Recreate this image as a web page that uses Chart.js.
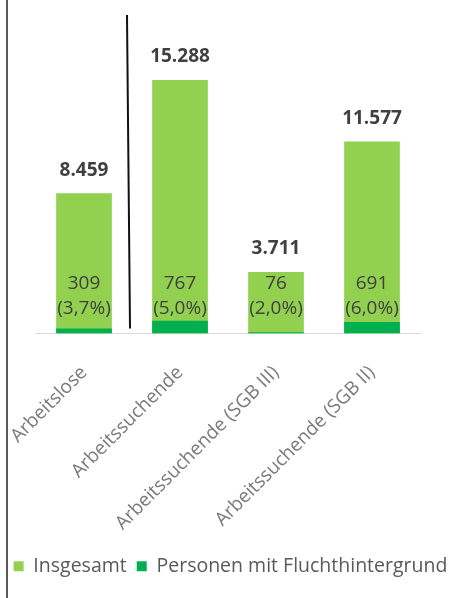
<!DOCTYPE html>
<html>
<head>
<meta charset="utf-8">
<script src="https://cdn.jsdelivr.net/npm/chart.js"></script>
<style>
  html, body { margin: 0; padding: 0; background: #fff; }
  #wrap { position: relative; width: 461px; height: 598px; }
  #edge { position: absolute; left: 6px; top: 0; width: 2px; height: 598px; background: #595959; }
</style>
</head>
<body>
<div id="wrap">
  <canvas id="chart" width="461" height="598"></canvas>
  <div id="edge"></div>
</div>
<script>
// Data
const categories = ['Arbeitslose', 'Arbeitssuchende', 'Arbeitssuchende (SGB III)', 'Arbeitssuchende (SGB II)'];
const insgesamt = [8459, 15288, 3711, 11577];
const flucht = [309, 767, 76, 691];
const seriesNames = ['Insgesamt', 'Personen mit Fluchthintergrund'];

const FONT = "'Open Sans', sans-serif";

// German number format: 15288 -> 15.288
function fmt(n) {
  return String(n).replace(/\B(?=(\d{3})+(?!\d))/g, '.');
}
function pct(part, total) {
  return (part / total * 100).toFixed(1).replace('.', ',') + '%';
}

// value labels + separator line
const labelPlugin = {
  id: 'labels',
  afterDatasetsDraw(chart) {
    const ctx = chart.ctx;
    const meta = chart.getDatasetMeta(0);
    const x = chart.scales.x;
    const base = chart.scales.y.getPixelForValue(0);

    ctx.save();
    ctx.textAlign = 'center';
    ctx.textBaseline = 'middle';
    meta.data.forEach((bar, i) => {
      ctx.fillStyle = '#404040';
      ctx.font = 'bold 19px ' + FONT;
      ctx.fillText(fmt(insgesamt[i]), bar.x, bar.y - 23);

      ctx.fillStyle = '#404040';
      ctx.font = '19px ' + FONT;
      ctx.fillText(String(flucht[i]), bar.x, base - 50);
      ctx.fillText('(' + pct(flucht[i], insgesamt[i]) + ')', bar.x, base - 25);
    });

    // black separator after the first category
    const mid = (x.getPixelForValue(0) + x.getPixelForValue(1)) / 2;
    ctx.strokeStyle = '#111';
    ctx.lineWidth = 2;
    ctx.beginPath();
    ctx.moveTo(mid - 5, chart.chartArea.top - 20);
    ctx.lineTo(mid - 2, base - 5);
    ctx.stroke();
    ctx.restore();
  }
};

// invisible side axes that only reserve room
function spacer(w) {
  return {
    display: true,
    ticks: { display: false },
    grid: { display: false },
    border: { display: false },
    afterFit(scale) { scale.width = w; }
  };
}

const ctx = document.getElementById('chart').getContext('2d');
new Chart(ctx, {
  type: 'bar',
  data: {
    labels: categories,
    datasets: [
      {
        label: seriesNames[0],
        data: insgesamt,
        backgroundColor: '#92D050',
        order: 1
      },
      {
        label: seriesNames[1],
        data: flucht,
        backgroundColor: '#00B050',
        order: 0
      }
    ]
  },
  options: {
    responsive: false,
    animation: false,
    layout: { padding: { top: 35, left: 0, right: 0, bottom: 12 } },
    datasets: {
      bar: { categoryPercentage: 1, barPercentage: 0.58 }
    },
    plugins: {
      tooltip: { enabled: false },
      legend: {
        position: 'bottom',
        labels: {
          boxWidth: 10,
          boxHeight: 10,
          padding: 10,
          color: '#595959',
          font: { family: FONT, size: 19.5 },
          sort: (a, b) => a.datasetIndex - b.datasetIndex
        }
      }
    },
    scales: {
      x: {
        stacked: true,
        grid: { display: false },
        border: { display: true, color: '#d9d9d9', width: 1 },
        ticks: {
          color: '#7a7a7a',
          font: { family: FONT, size: 19 },
          minRotation: 45,
          maxRotation: 45,
          padding: 20
        },
        afterFit(scale) {
          scale.height = 213;
          scale.paddingLeft = 0;
          scale.paddingRight = 0;
        }
      },
      y: Object.assign(spacer(36), {
        position: 'left',
        stacked: false,
        min: 0,
        max: 18000
      }),
      y2: Object.assign(spacer(41), { position: 'right' })
    }
  },
  plugins: [labelPlugin]
});
</script>
</body>
</html>
